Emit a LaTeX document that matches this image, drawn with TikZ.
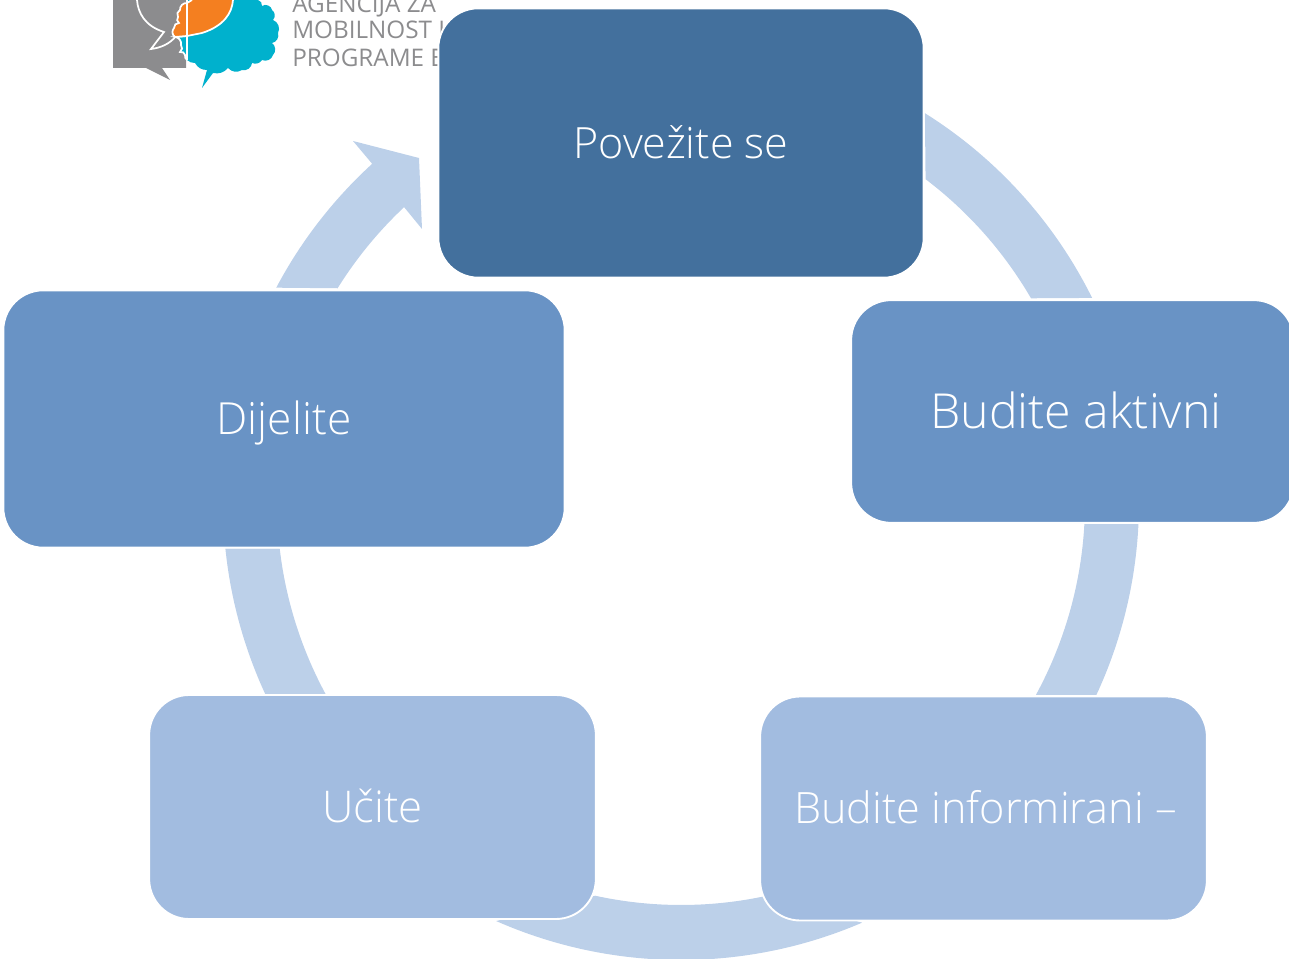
\documentclass[tikz,border=0pt]{standalone}
\usepackage{fontspec}
\setmainfont{Open Sans Light}
\newfontfamily\logofont{Open Sans}
\definecolor{boxdark}{HTML}{43709D}
\definecolor{boxmid}{HTML}{6993C5}
\definecolor{boxlight}{HTML}{A2BCE0}
\definecolor{ringc}{HTML}{BCD0E9}
\definecolor{logogray}{HTML}{8C8C8E}
\definecolor{logoorange}{HTML}{F47F20}
\definecolor{logocyan}{HTML}{00B1CD}
\tikzset{x=0.75pt,y=0.75pt,
  cyclebox/.style={rectangle,rounded corners=30pt,draw=white,line width=1.4pt,text=white,inner sep=0pt,align=center,text height=23pt,text depth=0pt},
  ringseg/.style={fill=ringc,draw=none},
  logoline/.style={white,line width=1.3pt},
  logotext/.style={font=\logofont\fontsize{18.2pt}{18.2pt}\selectfont,text=logogray,anchor=base west,inner sep=0pt}}
\begin{document}
\begin{tikzpicture}
\useasboundingbox (0,0) rectangle (1289,958);
\clip (0,0) rectangle (1289,958);
\coordinate (c) at (681,456);
% logo
\fill[logogray] (113,958) -- (113,890) -- (146,890) -- (170,878) -- (162,890) -- (186,890) -- (186,958) -- cycle;
\draw[logoline] (137,958) .. controls (138,945) and (145,932) .. (164,926) -- (151,909) .. controls (160,910) and (170,914) .. (176,922);
\fill[logocyan] (187,958) -- (258,958) to[bend left=40] (262,952) to[bend left=60] (272,948) to[bend left=50] (273,938) to[bend left=50] (278,925) to[bend left=50] (272,915) to[bend left=50] (273,903) to[bend left=50] (262,898) to[bend left=40] (252,895) to[bend left=50] (242,888) to[bend left=40] (228,890) to[bend left=30] (213,885) -- (202,870) -- (207,888) to[bend left=30] (195,895) to[bend left=20] (187,898) -- cycle;
\draw[logoline,fill=logocyan] (187,898) to[bend left=30] (185,903) to[bend right=50] (180,906) to[bend right=50] (181,913) to[bend right=50] (175,921) -- (187,922);
\draw[logoline,fill=logoorange] (233,958) .. controls (232,945) and (224,932) .. (202,925) -- (187,922) -- (175,921) to[bend left=50] (174,930) to[bend left=50] (179,935) to[bend left=50] (178,941) to[bend left=50] (180,948) to[bend left=50] (187,955) -- (192,958);
\draw[logoline] (187,898) -- (187,958);
\node[logotext] (la) at (292,945) {AGENCIJA ZA};
\node[logotext] (lb) at (292,919) {MOBILNOST I};
\node[logotext] (lc) at (292,891) {PROGRAME E};
% ring
\path[ringseg] ([shift={(57.9:459)}]c) arc[start angle=57.9,end angle=26.4,radius=459] -- ([shift={(30.2:405)}]c) arc[start angle=30.2,end angle=52.85,radius=405] -- cycle;
\path[ringseg] ([shift={(-2.75:458)}]c) arc[start angle=-2.75,end angle=-24.9,radius=458] -- ([shift={(-28.5:404)}]c) arc[start angle=-28.5,end angle=-3.1,radius=404] -- cycle;
\path[ringseg] ([shift={(-66.7:458)}]c) arc[start angle=-66.7,end angle=-113.8,radius=458] -- ([shift={(-102.3:403)}]c) arc[start angle=-102.3,end angle=-78,radius=403] -- cycle;
\path[ringseg] ([shift={(185.8:458)}]c) arc[start angle=185.8,end angle=204.8,radius=458] -- ([shift={(208.4:404)}]c) arc[start angle=208.4,end angle=186.6,radius=404] -- cycle;
\path[ringseg] ([shift={(152.1:458)}]c) arc[start angle=152.1,end angle=132.4,radius=458] -- (353,817) -- (419,800) -- (422,729) -- (404,751) -- ([shift={(133.2:404.5)}]c) arc[start angle=133.2,end angle=148.1,radius=404.5] -- cycle;
% boxes
\node[cyclebox,fill=boxdark,minimum width=364pt,minimum height=202pt,font=\fontsize{32.3pt}{36pt}\selectfont] (connect) at (681,815) {Povežite se};
\node[cyclebox,fill=boxmid,minimum width=332pt,minimum height=167pt,text height=26pt,font=\fontsize{36.2pt}{40pt}\selectfont] (active) at (1072.5,546.5) {\hspace*{5.2pt}Budite aktivni};
\node[cyclebox,fill=boxmid,minimum width=421pt,minimum height=193pt,font=\fontsize{33.2pt}{36pt}\selectfont] (share) at (284,539) {Dijelite};
\node[cyclebox,fill=boxlight,minimum width=335pt,minimum height=168pt,font=\fontsize{32.8pt}{36pt}\selectfont] (learn) at (372.5,151) {Učite};
\node[cyclebox,fill=boxlight,minimum width=335pt,minimum height=168pt,font=\fontsize{32.4pt}{36pt}\selectfont] (inform) at (983.5,149.5) {\hspace*{3pt}Budite informirani –};
\end{tikzpicture}
\end{document}
